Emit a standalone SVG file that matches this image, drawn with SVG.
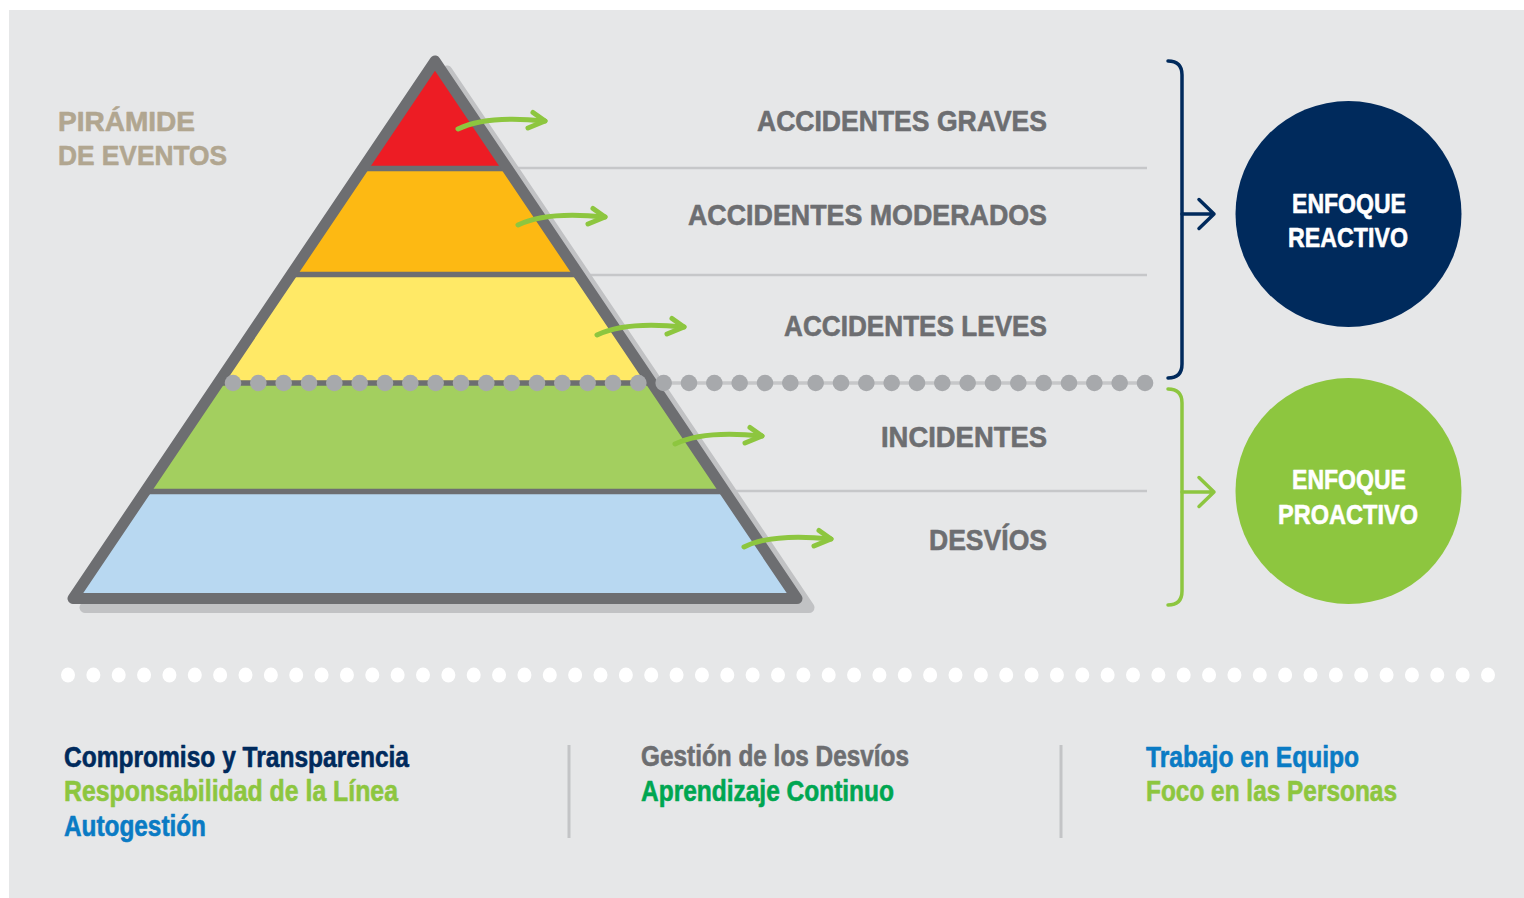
<svg xmlns="http://www.w3.org/2000/svg" width="1524" height="898" viewBox="0 0 1524 898">
<style>
  .t{font-family:"Liberation Sans",Arial,sans-serif;font-weight:bold;stroke-width:0.6px;stroke-linejoin:round;}
  .lbl{font-size:29px;fill:#6d6e71;stroke:#6d6e71;}
  .circ{font-size:28.5px;fill:#ffffff;stroke:#ffffff;}
  .bot{font-size:29px;}
  .hline{stroke:#c6c7c9;stroke-width:2.5;fill:none;}
  .arr{stroke:#8dc63f;stroke-width:5;fill:none;stroke-linecap:round;stroke-linejoin:round;}
  .div{stroke:#6d6e71;stroke-width:5.5;}
</style>
<defs>
  <clipPath id="tri"><polygon points="435,62 73,598.5 797,598.5"/></clipPath>
  <g id="greenArrow">
    <path class="arr" d="M2,0 C22,-10 50,-12 89,-8"/>
    <path class="arr" d="M77,-16.5 L89,-8 L72,-1"/>
  </g>
  <circle id="gd" r="8.3" fill="#a7a9ac"/>
  <ellipse id="wd" rx="7" ry="7.6" fill="#ffffff"/>
</defs>
<rect x="0" y="0" width="1524" height="898" fill="#ffffff"/>
<rect x="9" y="10" width="1515" height="888" fill="#e6e7e8"/>

<g id="separators">
  <line class="hline" x1="470" y1="168" x2="1147" y2="168"/>
  <line class="hline" x1="540" y1="275" x2="1147" y2="275"/>
  <line class="hline" x1="690" y1="491" x2="1147" y2="491"/>
  <line stroke="#c6c7c9" stroke-width="3.5" x1="600" y1="383" x2="1145" y2="383"/>
</g>

<g id="pyramid">
  <polygon points="435,62 73,598.5 797,598.5" transform="translate(12,9)" fill="#c1c2c4" stroke="#c1c2c4" stroke-width="11" stroke-linejoin="round"/>
  <g clip-path="url(#tri)">
    <rect x="60" y="50" width="760" height="118.5" fill="#ed1c24"/>
    <rect x="60" y="168.5" width="760" height="106" fill="#fdb913"/>
    <rect x="60" y="274.5" width="760" height="108.5" fill="#ffe966"/>
    <rect x="60" y="383" width="760" height="108.5" fill="#a3cf5f"/>
    <rect x="60" y="491.5" width="760" height="110" fill="#b8d8f1"/>
    <line class="div" x1="60" y1="168.5" x2="820" y2="168.5"/>
    <line class="div" x1="60" y1="274.5" x2="820" y2="274.5"/>
    <line class="div" x1="60" y1="383" x2="820" y2="383"/>
    <line class="div" x1="60" y1="491.5" x2="820" y2="491.5"/>
  </g>
  <polygon points="435,61 73,598.5 797,598.5" fill="none" stroke="#6d6e71" stroke-width="11" stroke-linejoin="round"/>
</g>

<g id="dots-gray">
  <use href="#gd" x="233" y="383"/><use href="#gd" x="258.33" y="383"/><use href="#gd" x="283.67" y="383"/><use href="#gd" x="309" y="383"/>
  <use href="#gd" x="334.33" y="383"/><use href="#gd" x="359.67" y="383"/><use href="#gd" x="385" y="383"/><use href="#gd" x="410.33" y="383"/>
  <use href="#gd" x="435.67" y="383"/><use href="#gd" x="461" y="383"/><use href="#gd" x="486.33" y="383"/><use href="#gd" x="511.67" y="383"/>
  <use href="#gd" x="537" y="383"/><use href="#gd" x="562.33" y="383"/><use href="#gd" x="587.67" y="383"/><use href="#gd" x="613" y="383"/>
  <use href="#gd" x="638.33" y="383"/><use href="#gd" x="663.67" y="383"/><use href="#gd" x="689" y="383"/><use href="#gd" x="714.33" y="383"/>
  <use href="#gd" x="739.67" y="383"/><use href="#gd" x="765" y="383"/><use href="#gd" x="790.33" y="383"/><use href="#gd" x="815.67" y="383"/>
  <use href="#gd" x="841" y="383"/><use href="#gd" x="866.33" y="383"/><use href="#gd" x="891.67" y="383"/><use href="#gd" x="917" y="383"/>
  <use href="#gd" x="942.33" y="383"/><use href="#gd" x="967.67" y="383"/><use href="#gd" x="993" y="383"/><use href="#gd" x="1018.33" y="383"/>
  <use href="#gd" x="1043.67" y="383"/><use href="#gd" x="1069" y="383"/><use href="#gd" x="1094.33" y="383"/><use href="#gd" x="1119.67" y="383"/>
  <use href="#gd" x="1145" y="383"/>
</g>

<g id="connectors">
  <use href="#greenArrow" transform="translate(456,129)"/>
  <use href="#greenArrow" transform="translate(516,225)"/>
  <use href="#greenArrow" transform="translate(595,335)"/>
  <use href="#greenArrow" transform="translate(673,444)"/>
  <use href="#greenArrow" transform="translate(742,547)"/>
  <g fill="none" stroke="#002a5c" stroke-width="3.5" stroke-linecap="round" stroke-linejoin="round">
    <path d="M1168,61 Q1182,61 1182,75 L1182,364 Q1182,378 1168,378"/>
    <path d="M1182,214 L1214,214 M1199,199.5 L1214,214 L1199,228.5"/>
  </g>
  <g fill="none" stroke="#8dc63f" stroke-width="3.5" stroke-linecap="round" stroke-linejoin="round">
    <path d="M1168,389 Q1182,389 1182,403 L1182,591 Q1182,605 1168,605"/>
    <path d="M1182,492 L1214,492 M1199,477.5 L1214,492 L1199,506.5"/>
  </g>
</g>

<g id="title">
  <text class="t" x="58" y="131" font-size="28.5" fill="#b1a690" stroke="#b1a690" textLength="137" lengthAdjust="spacingAndGlyphs">PIRÁMIDE</text>
  <text class="t" x="58" y="165" font-size="28.5" fill="#b1a690" stroke="#b1a690" textLength="169" lengthAdjust="spacingAndGlyphs">DE EVENTOS</text>
</g>

<g id="label-graves"><text class="t lbl" x="757" y="131" textLength="290" lengthAdjust="spacingAndGlyphs">ACCIDENTES GRAVES</text></g>
<g id="label-moderados"><text class="t lbl" x="688" y="225" textLength="359" lengthAdjust="spacingAndGlyphs">ACCIDENTES MODERADOS</text></g>
<g id="label-leves"><text class="t lbl" x="784" y="336" textLength="263" lengthAdjust="spacingAndGlyphs">ACCIDENTES LEVES</text></g>
<g id="label-incidentes"><text class="t lbl" x="881" y="447" textLength="166" lengthAdjust="spacingAndGlyphs">INCIDENTES</text></g>
<g id="label-desvios"><text class="t lbl" x="929" y="550" textLength="118" lengthAdjust="spacingAndGlyphs">DESVÍOS</text></g>

<g id="enfoque-reactivo">
  <circle cx="1348.5" cy="214" r="113" fill="#002a5c"/>
  <text class="t circ" x="1292" y="213" textLength="114" lengthAdjust="spacingAndGlyphs">ENFOQUE</text>
  <text class="t circ" x="1288" y="247" textLength="120" lengthAdjust="spacingAndGlyphs">REACTIVO</text>
</g>
<g id="enfoque-proactivo">
  <circle cx="1348.5" cy="491" r="113" fill="#8dc63f"/>
  <text class="t circ" x="1292" y="489" textLength="114" lengthAdjust="spacingAndGlyphs">ENFOQUE</text>
  <text class="t circ" x="1278" y="524" textLength="140" lengthAdjust="spacingAndGlyphs">PROACTIVO</text>
</g>

<g id="dots-white">
  <use href="#wd" x="68" y="675"/><use href="#wd" x="93.36" y="675"/><use href="#wd" x="118.71" y="675"/><use href="#wd" x="144.07" y="675"/>
  <use href="#wd" x="169.43" y="675"/><use href="#wd" x="194.79" y="675"/><use href="#wd" x="220.14" y="675"/><use href="#wd" x="245.5" y="675"/>
  <use href="#wd" x="270.86" y="675"/><use href="#wd" x="296.21" y="675"/><use href="#wd" x="321.57" y="675"/><use href="#wd" x="346.93" y="675"/>
  <use href="#wd" x="372.29" y="675"/><use href="#wd" x="397.64" y="675"/><use href="#wd" x="423" y="675"/><use href="#wd" x="448.36" y="675"/>
  <use href="#wd" x="473.71" y="675"/><use href="#wd" x="499.07" y="675"/><use href="#wd" x="524.43" y="675"/><use href="#wd" x="549.79" y="675"/>
  <use href="#wd" x="575.14" y="675"/><use href="#wd" x="600.5" y="675"/><use href="#wd" x="625.86" y="675"/><use href="#wd" x="651.21" y="675"/>
  <use href="#wd" x="676.57" y="675"/><use href="#wd" x="701.93" y="675"/><use href="#wd" x="727.29" y="675"/><use href="#wd" x="752.64" y="675"/>
  <use href="#wd" x="778" y="675"/><use href="#wd" x="803.36" y="675"/><use href="#wd" x="828.71" y="675"/><use href="#wd" x="854.07" y="675"/>
  <use href="#wd" x="879.43" y="675"/><use href="#wd" x="904.79" y="675"/><use href="#wd" x="930.14" y="675"/><use href="#wd" x="955.5" y="675"/>
  <use href="#wd" x="980.86" y="675"/><use href="#wd" x="1006.21" y="675"/><use href="#wd" x="1031.57" y="675"/><use href="#wd" x="1056.93" y="675"/>
  <use href="#wd" x="1082.29" y="675"/><use href="#wd" x="1107.64" y="675"/><use href="#wd" x="1133" y="675"/><use href="#wd" x="1158.36" y="675"/>
  <use href="#wd" x="1183.71" y="675"/><use href="#wd" x="1209.07" y="675"/><use href="#wd" x="1234.43" y="675"/><use href="#wd" x="1259.79" y="675"/>
  <use href="#wd" x="1285.14" y="675"/><use href="#wd" x="1310.5" y="675"/><use href="#wd" x="1335.86" y="675"/><use href="#wd" x="1361.21" y="675"/>
  <use href="#wd" x="1386.57" y="675"/><use href="#wd" x="1411.93" y="675"/><use href="#wd" x="1437.29" y="675"/><use href="#wd" x="1462.64" y="675"/>
  <use href="#wd" x="1488" y="675"/>
</g>

<g id="values-left">
  <text class="t bot" x="64" y="767" fill="#002a5c" stroke="#002a5c" textLength="345" lengthAdjust="spacingAndGlyphs">Compromiso y Transparencia</text>
  <text class="t bot" x="64" y="801" fill="#8dc63f" stroke="#8dc63f" textLength="334" lengthAdjust="spacingAndGlyphs">Responsabilidad de la Línea</text>
  <text class="t bot" x="64" y="836" fill="#0a7bc4" stroke="#0a7bc4" textLength="142" lengthAdjust="spacingAndGlyphs">Autogestión</text>
</g>
<line x1="569" y1="745" x2="569" y2="838" stroke="#c3c4c6" stroke-width="3"/>
<g id="values-middle">
  <text class="t bot" x="641" y="766" fill="#6d6e71" stroke="#6d6e71" textLength="268" lengthAdjust="spacingAndGlyphs">Gestión de los Desvíos</text>
  <text class="t bot" x="641" y="801" fill="#00a651" stroke="#00a651" textLength="253" lengthAdjust="spacingAndGlyphs">Aprendizaje Continuo</text>
</g>
<line x1="1061" y1="745" x2="1061" y2="838" stroke="#c3c4c6" stroke-width="3"/>
<g id="values-right">
  <text class="t bot" x="1146" y="767" fill="#0a7bc4" stroke="#0a7bc4" textLength="213" lengthAdjust="spacingAndGlyphs">Trabajo en Equipo</text>
  <text class="t bot" x="1146" y="801" fill="#8dc63f" stroke="#8dc63f" textLength="251" lengthAdjust="spacingAndGlyphs">Foco en las Personas</text>
</g>
</svg>
